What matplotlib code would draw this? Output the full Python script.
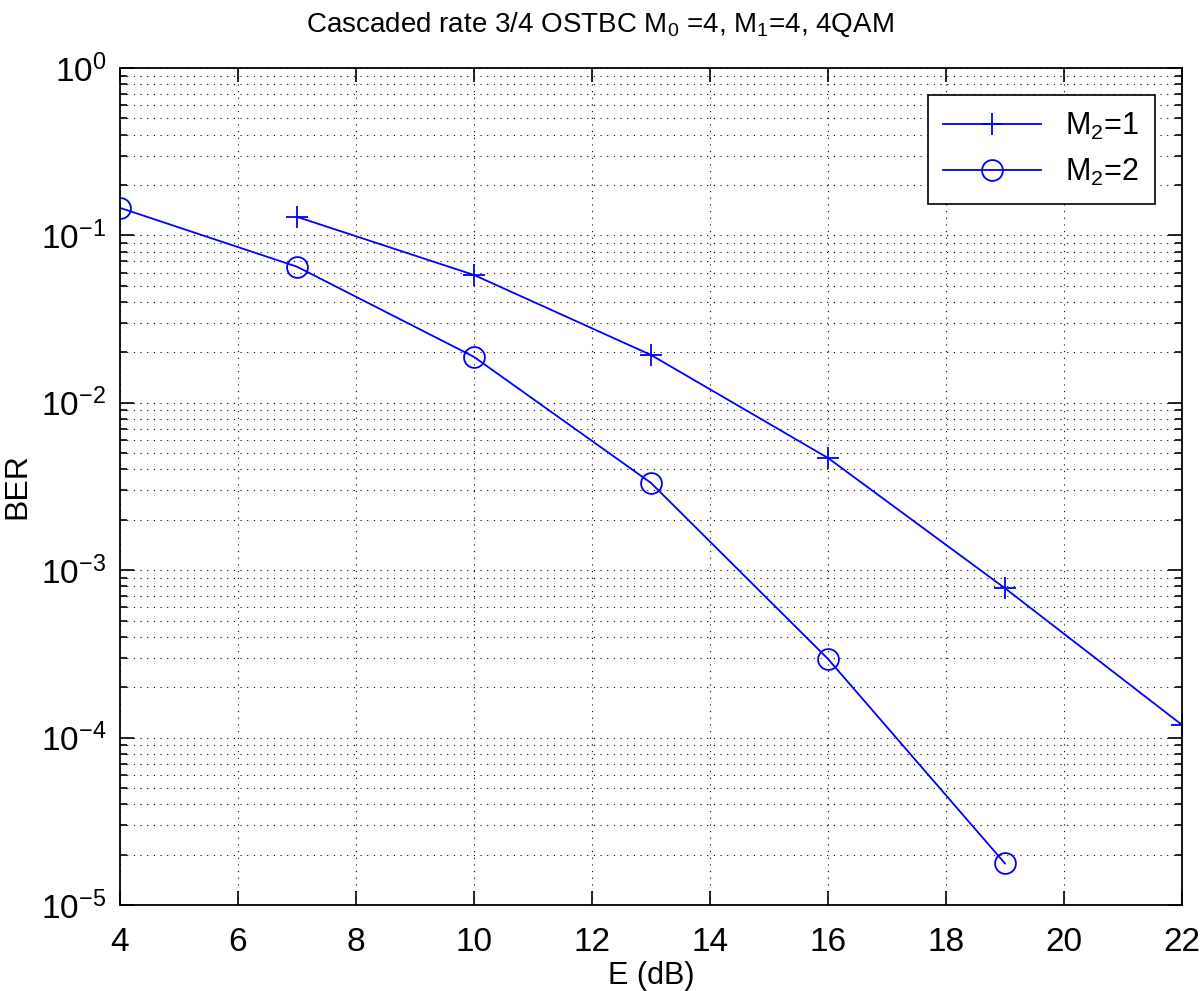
import numpy as np
import matplotlib
matplotlib.use('Agg')
import matplotlib.pyplot as plt
from matplotlib.ticker import LogLocator, NullFormatter, MultipleLocator

# Data
snr_m1 = [7, 10, 13, 16, 19, 22]
ber_m1 = [0.129, 0.058, 0.0193, 0.00468, 0.00078, 0.000119]

snr_m2 = [4, 7, 10, 13, 16, 19]
ber_m2 = [0.146, 0.065, 0.0188, 0.00332, 0.000295, 1.77e-5]

plt.rcParams['font.family'] = ['Liberation Sans', 'DejaVu Sans']
plt.rcParams['mathtext.fontset'] = 'custom'
plt.rcParams['mathtext.rm'] = 'Liberation Sans'
plt.rcParams['mathtext.it'] = 'Liberation Sans'
plt.rcParams['mathtext.default'] = 'regular'

fig = plt.figure(figsize=(12, 9.91), dpi=100)
ax = fig.add_axes([0.1, 0.0868, 0.885, 0.8446])

ax.semilogy(snr_m1, ber_m1, color='b', marker='+', ms=16, mew=1.3, lw=1.3,
            label='M$_2$=1')
ax.semilogy(snr_m2, ber_m2, color='b', marker='o', mfc='none', ms=15, mew=1.3,
            lw=1.3, label='M$_2$=2')

ax.set_xlim(4, 22)
ax.set_ylim(1e-5, 1)
ax.xaxis.set_major_locator(MultipleLocator(2))
ax.yaxis.set_major_locator(LogLocator(base=10, numticks=10))
ax.yaxis.set_minor_locator(LogLocator(base=10, subs=np.arange(2, 10), numticks=20))
ax.yaxis.set_minor_formatter(NullFormatter())

# dotted grid, MATLAB style
ax.grid(True, which='major', axis='both', color='k', ls=(0, (1, 5)), lw=0.8)
ax.grid(True, which='minor', axis='y', color='k', ls=(0, (1, 5)), lw=0.8)

ax.tick_params(which='both', direction='in', top=True, right=True,
               labelsize=24, width=1.2)
ax.tick_params(which='major', length=10)
ax.tick_params(axis='x', which='major', pad=16)
ax.tick_params(axis='y', which='major', pad=10)
ax.tick_params(which='minor', length=5)
for s in ax.spines.values():
    s.set_linewidth(1.3)

ax.set_xlabel('E (dB)', fontsize=22, labelpad=2)
ax.set_ylabel('BER', fontsize=23, labelpad=6)
fig.text(0.5, 0.99, 'Cascaded rate 3/4 OSTBC M$_0$ =4, M$_1$=4, 4QAM',
         fontsize=20, ha='center', va='top')

leg = ax.legend(loc='upper right', fontsize=22, fancybox=False, framealpha=1,
                edgecolor='k', handlelength=3.2, borderaxespad=0.9,
                borderpad=0.5, labelspacing=0.5)
leg.get_frame().set_linewidth(1.2)

fig.savefig('out.png', dpi=100)
